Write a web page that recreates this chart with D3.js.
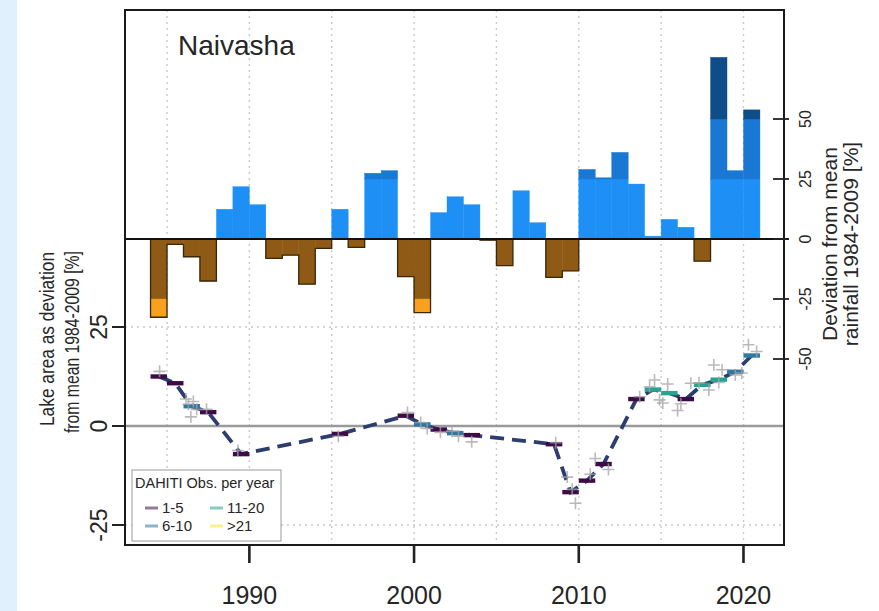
<!DOCTYPE html>
<html>
<head>
<meta charset="utf-8">
<script src="https://cdn.jsdelivr.net/npm/d3@7"></script>
<style>
  body { margin: 0; background: #fff; }
  svg { display: block; }
  text { font-family: "Liberation Sans", Arial, Helvetica, sans-serif; fill: #262626; }
</style>
</head>
<body>
<svg id="chart" width="879" height="611"></svg>
<script>
// ---- Rainfall anomaly (% deviation from 1984-2009 mean); each bar covers [year, year+1]
const rainYears = d3.range(1984, 2021);
const rainValues = [-32.6, -2.2, -7.4, -17.5, 12.4, 21.8, 14.3, -8.1, -6.7, -18.8,
                    -3.9, 12.4, -3.5, 27.4, 28.5, -15.7, -30.7, 11.0, 17.6, 14.3,
                    -0.5, -11.1, 20.1, 6.8, -16.0, -13.3, 29.0, 25.5, 36.1, 22.9,
                    1.2, 8.2, 4.9, -9.2, 75.7, 28.5, 53.8];

// ---- Lake area: annual mean deviation (%), and DAHITI observation count class
const lakeYears  = [1984, 1985, 1986, 1987, 1989, 1995, 1999, 2000, 2001, 2002, 2003, 2008,
                    2009, 2010, 2011, 2013, 2014, 2015, 2016, 2017, 2018, 2019, 2020];
const lakeValues = [12.5, 10.8, 5.0, 3.5, -7.1, -2.0, 2.6, 0.4, -0.9, -1.8, -2.3, -4.6,
                    -16.7, -13.8, -9.6, 6.8, 9.2, 8.3, 6.8, 10.4, 11.7, 13.7, 17.8];
const lakeClass  = ["1-5", "1-5", "6-10", "1-5", "1-5", "1-5", "1-5", "6-10", "1-5", "6-10", "1-5", "1-5",
                    "1-5", "1-5", "1-5", "1-5", "11-20", "11-20", "1-5", "11-20", "11-20", "6-10", "6-10"];

// ---- Individual lake-area observations (decimal year, % deviation)
const obsTimes  = [1984.55, 1986.15, 1986.3, 1986.45, 1986.6, 1986.8, 1987.4, 1989.3, 1995.4, 1999.6,
                   2000.4, 2000.8, 2001.6, 2002.3, 2002.7, 2003.5, 2008.6, 2009.3, 2009.6, 2009.8,
                   2010.7, 2011.0, 2011.8, 2013.7, 2014.3, 2014.6, 2014.9, 2015.1, 2015.4, 2016.0,
                   2016.2, 2016.8, 2017.3, 2017.9, 2018.2, 2018.5, 2018.7, 2019.5, 2019.9, 2020.3, 2020.8];
const obsValues = [13.8, 6.8, 5.5, 2.3, 6.2, 4.2, 4.2, -6.2, -2.6, 3.4,
                   0.9, -0.6, -1.6, -1.3, -2.6, -4.0, -4.2, -12.9, -16.0, -19.5,
                   -12.2, -8.2, -11.0, 7.4, 9.9, 11.6, 6.6, 5.8, 10.6, 3.9,
                   5.6, 10.8, 10.9, 9.1, 15.4, 11.0, 14.2, 12.9, 13.4, 20.5, 18.8];

// ---- Legend classes and axis ticks
const obsClasses = ["1-5", "6-10", "11-20", ">21"];
const obsColors  = ["#3d0c48", "#2e78a2", "#25a590", "#fde725"];
const xTicks     = [1990, 2000, 2010, 2020];
const xGrid      = [1985, 1990, 1995, 2000, 2005, 2010, 2015, 2020];
const lakeTicks  = [-25, 0, 25];
const rainTicks  = [-50, -25, 0, 25, 50];

const svg = d3.select("#chart");
const L = 125, R = 784, T = 10, B = 545;

const x     = d3.scaleLinear().domain([1982.45, 2022.46]).range([L, R]);
const yRain = d3.scaleLinear().domain([-50, 50]).range([359, 119]);
const yLake = d3.scaleLinear().domain([-25, 25]).range([525, 327]);
const classColor = d3.scaleOrdinal().domain(obsClasses).range(obsColors);

// page strip on the left
svg.append("rect").attr("x", 0).attr("y", 0).attr("width", 17).attr("height", 611).attr("fill", "#e0f0fc");

// ---- grid
const grid = svg.append("g");
grid.selectAll("line.v").data(xGrid).join("line")
  .attr("x1", d => x(d)).attr("x2", d => x(d)).attr("y1", T).attr("y2", B)
  .attr("stroke", "#c9c9c9").attr("stroke-width", 1.4).attr("stroke-dasharray", "2,4");
grid.selectAll("line.h").data([-25, 25]).join("line")
  .attr("x1", L).attr("x2", R).attr("y1", d => yLake(d)).attr("y2", d => yLake(d))
  .attr("stroke", "#c9c9c9").attr("stroke-width", 1.4).attr("stroke-dasharray", "2,4");

// ---- rainfall bars split into 25 % bands
const bands = [
  {lo: 0, hi: 25, c: "#1e8ff5"}, {lo: 25, hi: 50, c: "#1978d4"}, {lo: 50, hi: 1000, c: "#0f4d88"},
  {lo: -25, hi: 0, c: "#8e5a15"}, {lo: -1000, hi: -25, c: "#f7a11f"}
];
const segs = [];
rainYears.forEach((yr, i) => {
  const v = rainValues[i];
  bands.forEach(b => {
    const a = Math.max(Math.min(0, v), b.lo), z = Math.min(Math.max(0, v), b.hi);
    if (z > a) segs.push({yr, a, z, c: b.c});
  });
});
svg.append("g").selectAll("rect").data(segs).join("rect")
  .attr("x", d => x(d.yr)).attr("width", d => x(d.yr + 1) - x(d.yr))
  .attr("y", d => yRain(d.z)).attr("height", d => yRain(d.a) - yRain(d.z))
  .attr("fill", d => d.c).attr("stroke", d => d.c).attr("stroke-width", 0.4);

// dark step outline along the dry years
svg.append("clipPath").attr("id", "dry").append("rect")
  .attr("x", L).attr("y", yRain(0)).attr("width", R - L).attr("height", B - yRain(0));
let step = `M${x(rainYears[0])},${yRain(0)}`;
rainYears.forEach((yr, i) => { step += `V${yRain(rainValues[i])}H${x(yr + 1)}`; });
step += `V${yRain(0)}`;
svg.append("path").attr("d", step).attr("clip-path", "url(#dry)")
  .attr("fill", "none").attr("stroke", "#3b2708").attr("stroke-width", 1.3);

// zero lines
svg.append("line").attr("x1", L).attr("x2", 789).attr("y1", yRain(0)).attr("y2", yRain(0))
  .attr("stroke", "#111").attr("stroke-width", 1.8);
svg.append("line").attr("x1", L).attr("x2", R).attr("y1", yLake(0)).attr("y2", yLake(0))
  .attr("stroke", "#9a9a9a").attr("stroke-width", 2.4);

// ---- lake area: dashed connection, observations, annual means
const lakePts = lakeYears.map((yr, i) => ({yr, v: lakeValues[i], c: lakeClass[i]}));
svg.append("path").datum(lakePts)
  .attr("d", d3.line().x(d => x(d.yr + 0.5)).y(d => yLake(d.v)))
  .attr("fill", "none").attr("stroke", "#2c3d6e").attr("stroke-width", 3.8)
  .attr("stroke-dasharray", "14,8");

svg.append("g").selectAll("line").data(lakePts).join("line")
  .attr("x1", d => x(d.yr)).attr("x2", d => x(d.yr + 1))
  .attr("y1", d => yLake(d.v)).attr("y2", d => yLake(d.v))
  .attr("stroke", d => classColor(d.c)).attr("stroke-width", 4.4);

const obs = obsTimes.map((t, i) => ({t, v: obsValues[i]}));
svg.append("g").selectAll("path").data(obs).join("path")
  .attr("d", d => `M${x(d.t) - 6},${yLake(d.v)}h12M${x(d.t)},${yLake(d.v) - 6}v12`)
  .attr("stroke", "#a3a3a3").attr("stroke-width", 1.6).attr("opacity", 0.75).attr("fill", "none");

// ---- frame
svg.append("rect").attr("x", L).attr("y", T).attr("width", R - L).attr("height", B - T)
  .attr("fill", "none").attr("stroke", "#1a1a1a").attr("stroke-width", 2);

// ---- bottom axis
const bx = svg.append("g");
bx.selectAll("line").data(xTicks).join("line")
  .attr("x1", d => x(d)).attr("x2", d => x(d)).attr("y1", B).attr("y2", 563)
  .attr("stroke", "#222").attr("stroke-width", 2.6);
bx.selectAll("text").data(xTicks).join("text")
  .attr("x", d => x(d)).attr("y", 604).attr("text-anchor", "middle")
  .attr("font-size", 25).text(d => d);

// ---- left axis (lake area)
const lx = svg.append("g");
lx.selectAll("line").data(lakeTicks).join("line")
  .attr("x1", 112).attr("x2", L).attr("y1", d => yLake(d)).attr("y2", d => yLake(d))
  .attr("stroke", "#222").attr("stroke-width", 2);
lx.selectAll("text").data(lakeTicks).join("text")
  .attr("transform", d => `translate(107,${yLake(d)}) rotate(-90)`)
  .attr("text-anchor", "middle").attr("font-size", 23).text(d => d);
svg.append("text").attr("transform", "translate(54,339) rotate(-90)")
  .attr("text-anchor", "middle").attr("font-size", 21)
  .attr("textLength", 174).attr("lengthAdjust", "spacingAndGlyphs").text("Lake area as deviation");
svg.append("text").attr("transform", "translate(79,342) rotate(-90)")
  .attr("text-anchor", "middle").attr("font-size", 21)
  .attr("textLength", 182).attr("lengthAdjust", "spacingAndGlyphs").text("from mean 1984-2009 [%]");

// ---- right axis (rainfall)
const rx = svg.append("g");
rx.selectAll("line").data(rainTicks).join("line")
  .attr("x1", 773).attr("x2", 789).attr("y1", d => yRain(d)).attr("y2", d => yRain(d))
  .attr("stroke", "#222").attr("stroke-width", 1.8);
rx.selectAll("text").data(rainTicks).join("text")
  .attr("transform", d => `translate(811,${yRain(d)}) rotate(-90)`)
  .attr("text-anchor", "middle").attr("font-size", 16).text(d => d);
svg.append("text").attr("transform", "translate(837,244) rotate(-90)")
  .attr("text-anchor", "middle").attr("font-size", 21).text("Deviation from mean");
svg.append("text").attr("transform", "translate(858,244) rotate(-90)")
  .attr("text-anchor", "middle").attr("font-size", 21).text("rainfall 1984-2009 [%]");

// ---- title
svg.append("text").attr("x", 178).attr("y", 55).attr("font-size", 28).attr("fill", "#222").text("Naivasha");

// ---- legend
const lg = svg.append("g");
lg.append("rect").attr("x", 132).attr("y", 470).attr("width", 149).attr("height", 71)
  .attr("fill", "#fff").attr("stroke", "#9a9a9a").attr("stroke-width", 1);
lg.append("text").attr("x", 135).attr("y", 488).attr("font-size", 14.5).attr("fill", "#444")
  .text("DAHITI Obs. per year");
const pos = [[145, 508], [145, 526], [210, 508], [210, 526]];
obsClasses.forEach((c, i) => {
  const [lx0, ly] = pos[i];
  lg.append("line").attr("x1", lx0).attr("x2", lx0 + 13).attr("y1", ly).attr("y2", ly)
    .attr("stroke", classColor(c)).attr("stroke-width", 3).attr("opacity", 0.55);
  lg.append("text").attr("x", lx0 + 17).attr("y", ly + 5).attr("font-size", 15).attr("fill", "#444").text(c);
});
</script>
</body>
</html>
